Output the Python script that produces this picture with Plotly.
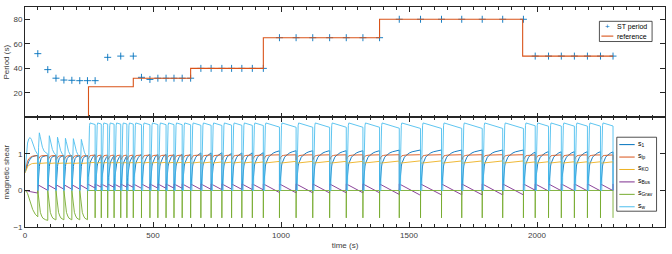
import numpy as np
import plotly.graph_objects as go
from plotly.subplots import make_subplots

# ---------------- top panel data ----------------
st_time = [50, 89, 121, 152, 183, 214, 244, 274, 323, 374, 423, 455, 488, 519, 551, 582, 614, 647,
           687, 727, 769, 807, 847, 888, 931, 994, 1059, 1124, 1190, 1255, 1320, 1385,
           1462, 1545, 1627, 1706, 1786, 1866, 1947, 1993, 2045, 2095, 2146, 2197, 2248, 2297]
st_period = [52, 39, 32, 30.5, 30.3, 30, 30, 30, 49, 50, 50, 32.7, 31, 32, 32, 32, 32, 32,
             40, 40, 40, 40, 40, 40, 40, 65, 65, 65, 65, 65, 65, 65,
             80, 80, 80, 80, 80, 80, 80, 50, 50, 50, 50, 50, 50, 50]
ref_time = [248, 248, 423, 647, 931, 1385, 1944, 2297]
ref_value = [0, 25, 32, 40, 65, 80, 50, 50]

# ---------------- bottom panel data ----------------
crash_time = [50, 89, 121, 152, 183, 214, 244, 274, 298, 323, 348, 374, 398, 423,
              455, 488, 519, 551, 582, 614, 647, 687, 727, 769, 807, 847, 888, 931,
              994, 1059, 1124, 1190, 1255, 1320, 1385, 1462, 1545, 1627, 1706, 1786, 1866, 1947,
              1993, 2045, 2095, 2146, 2197, 2248, 2297]
late_start = 244
early_w_peak = [1.58, 1.5, 1.46, 1.43, 1.42, 1.4]

init_t = [0, 5, 10, 15, 20, 25, 30, 40, 50]
init_vals = {
    "s1":   [0.5, 0.62, 0.72, 0.8, 0.86, 0.9, 0.93, 0.95, 0.96],
    "lp":   [0.5, 0.68, 0.8, 0.87, 0.91, 0.93, 0.94, 0.95, 0.96],
    "ko":   [0.48, 0.58, 0.65, 0.69, 0.72, 0.73, 0.74, 0.75, 0.75],
    "bus":  [0, 0, -0.01, -0.02, -0.03, -0.04, -0.05, -0.06, -0.07],
    "grav": [0, -0.02, -0.08, -0.18, -0.3, -0.42, -0.52, -0.65, -0.72],
    "w":    [0.5, 1.0, 1.3, 1.42, 1.45, 1.4, 1.3, 1.1, 0.98],
}
# cycle templates: (seconds after crash, value)
early_tpl = {
    "s1":   ([0, 1, 2, 3, 4, 6, 8, 10, 13, 16, 20, 30, 45], [0, 0.15, 0.3, 0.42, 0.52, 0.66, 0.75, 0.82, 0.88, 0.91, 0.93, 0.95, 0.96]),
    "lp":   ([0, 2, 4, 7, 10, 15, 25, 45], [0.84, 0.86, 0.9, 0.93, 0.94, 0.95, 0.96, 0.96]),
    "ko":   ([0, 3, 45], [0.73, 0.74, 0.76]),
    "bus":  ([0, 2, 40], [0.02, 0.15, 0.0]),
    "grav": ([0, 3, 6, 10, 15, 20, 30, 40], [0, -0.25, -0.45, -0.6, -0.7, -0.76, -0.8, -0.82]),
    "w":    ([0, 1.5, 3, 4.5, 6, 9, 13, 18, 25, 35, 45], [0, 0.35, 0.75, 0.95, 1.0, 0.94, 0.84, 0.75, 0.68, 0.64, 0.62]),
}
late_tpl = {
    "s1":   ([0, 1, 2, 3, 4, 6, 8, 10, 13, 16, 20, 25, 30, 40, 50, 65, 80],
             [0, 0.12, 0.25, 0.36, 0.45, 0.58, 0.67, 0.74, 0.81, 0.86, 0.91, 0.95, 0.98, 1.03, 1.06, 1.09, 1.11]),
    "lp":   ([0, 2, 4, 7, 10, 15, 25, 80], [0.84, 0.86, 0.9, 0.93, 0.95, 0.96, 0.97, 0.98]),
    "ko":   ([0, 3, 80], [0.74, 0.75, 0.81]),
    "bus":  ([0, 80], [0.18, -0.12]),
    "grav": ([0, 0.3, 80], [-0.75, 0, 0]),
    "w":    ([0, 5, 5.6, 6.5, 8, 10, 80], [0, 0, 1.05, 1.55, 1.78, 1.85, 1.7]),
}

series_keys = ["s1", "lp", "ko", "bus", "grav", "w"]
series_names = ["s<sub>1</sub>", "s<sub>lp</sub>", "s<sub>KO</sub>", "s<sub>Bus</sub>", "s<sub>Grav</sub>", "s<sub>w</sub>"]
series_colors = ["#0072BD", "#D95319", "#EDB120", "#7E2F8E", "#77AC30", "#4DBEEE"]


def segment(t0, t1, dts, vs, scale=1.0):
    dts = np.asarray(dts, float)
    vs = np.asarray(vs, float) * scale
    L = t1 - t0
    m = dts < L
    ts = list(t0 + dts[m])
    vv = list(vs[m])
    ts.append(t1)
    vv.append(float(np.interp(L, dts, vs)))
    return ts, vv


def build(key):
    T = list(init_t)
    V = list(init_vals[key])
    k_early = 0
    for i in range(len(crash_time) - 1):
        t0, t1 = crash_time[i], crash_time[i + 1]
        if t0 < late_start:
            dts, vs = early_tpl[key]
            sc = early_w_peak[k_early] if key == "w" else 1.0
            k_early += 1
        else:
            dts, vs = late_tpl[key]
            sc = 1.0
        ts, vv = segment(t0, t1, dts, vs, sc)
        T += ts
        V += vv
    T.append(crash_time[-1])
    V.append(late_tpl[key][1][0])
    return T, V


fig = make_subplots(rows=2, cols=1, shared_xaxes=True, vertical_spacing=0)

AX = "#262626"
TXT = "#404040"
FONT = "Liberation Sans"

fig.add_trace(go.Scatter(x=st_time, y=st_period, mode="markers", name="ST period",
                         marker=dict(symbol="cross-thin", size=5, line=dict(width=0.9, color="#0072BD"), color="#0072BD"),
                         showlegend=False), row=1, col=1)
fig.add_trace(go.Scatter(x=ref_time, y=ref_value, mode="lines", name="reference", line_shape="hv",
                         line=dict(color="#D95319", width=1.1), showlegend=False), row=1, col=1)

for key, nm, col in zip(series_keys, series_names, series_colors):
    T, V = build(key)
    fig.add_trace(go.Scatter(x=T, y=V, mode="lines", name=nm, line=dict(color=col, width=0.9),
                             showlegend=False), row=2, col=1)

ax_common = dict(showline=True, linecolor=AX, linewidth=0.8, mirror="ticks", ticks="inside",
                 tickcolor=AX, tickwidth=0.8, showgrid=False, zeroline=False,
                 tickfont=dict(size=8, color=TXT, family=FONT))

fig.update_xaxes(**ax_common, range=[0, 2500], tickvals=[0, 500, 1000, 1500, 2000, 2500], ticklen=5,
                 minor=dict(tick0=0, dtick=50, ticks="inside", ticklen=3, tickcolor=AX, tickwidth=0.8, showgrid=False))
fig.update_xaxes(showticklabels=False, row=1, col=1)
fig.update_xaxes(title=dict(text="time (s)", font=dict(size=8, color=TXT, family=FONT), standoff=3), row=2, col=1)

fig.update_yaxes(**ax_common, ticklen=5)
fig.update_yaxes(range=[0, 90], tickvals=[20, 40, 60, 80], row=1, col=1,
                 title=dict(text="Period (s)", font=dict(size=8, color=TXT, family=FONT), standoff=2))
fig.update_yaxes(range=[-1, 2], tickvals=[-1, 0, 1], row=2, col=1,
                 title=dict(text="magnetic shear", font=dict(size=8, color=TXT, family=FONT), standoff=2))

fig.update_layout(
    yaxis=dict(domain=[0.4978, 1.0]),
    yaxis2=dict(domain=[0.0, 0.4978]),
)

# ---------- legends (drawn manually to match compact layout) ----------
W, H = 672, 254
ml, mr, mt, mb = 22, 6, 6, 25
pw, ph = W - ml - mr, H - mt - mb


def px(x):
    return (x - ml) / pw


def py(y):
    return (H - mb - y) / ph


shapes = []
annots = []
# top legend
shapes.append(dict(type="rect", xref="paper", yref="paper", x0=px(600), x1=px(653), y0=py(41), y1=py(20.5),
                   line=dict(color=AX, width=0.8), fillcolor="white", layer="above"))
annots.append(dict(xref="paper", yref="paper", x=px(608), y=py(26), text="+", showarrow=False,
                   font=dict(size=8, color="#0072BD", family=FONT), xanchor="center", yanchor="middle"))
annots.append(dict(xref="paper", yref="paper", x=px(616), y=py(26), text="ST period", showarrow=False,
                   font=dict(size=7, color="#000000", family=FONT), xanchor="left", yanchor="middle"))
shapes.append(dict(type="line", xref="paper", yref="paper", x0=px(602), x1=px(614), y0=py(35.5), y1=py(35.5),
                   line=dict(color="#D95319", width=1.1), layer="above"))
annots.append(dict(xref="paper", yref="paper", x=px(616), y=py(35.5), text="reference", showarrow=False,
                   font=dict(size=7, color="#000000", family=FONT), xanchor="left", yanchor="middle"))

# bottom legend
shapes.append(dict(type="rect", xref="paper", yref="paper", x0=px(617.5), x1=px(657.5), y0=py(213), y1=py(138),
                   line=dict(color=AX, width=0.8), fillcolor="white", layer="above"))
for i, (nm, col) in enumerate(zip(series_names, series_colors)):
    yy = 145.5 + i * 12.6
    shapes.append(dict(type="line", xref="paper", yref="paper", x0=px(620), x1=px(635.5), y0=py(yy), y1=py(yy),
                       line=dict(color=col, width=1), layer="above"))
    annots.append(dict(xref="paper", yref="paper", x=px(637), y=py(yy - 1), text=nm, showarrow=False,
                       font=dict(size=7, color="#000000", family=FONT), xanchor="left", yanchor="middle"))

fig.update_layout(
    width=W, height=H,
    margin=dict(l=ml, r=mr, t=mt, b=mb),
    paper_bgcolor="white", plot_bgcolor="white",
    shapes=shapes, annotations=annots,
    showlegend=False,
    font=dict(family=FONT, color=TXT),
)

fig.write_html("out.html")
